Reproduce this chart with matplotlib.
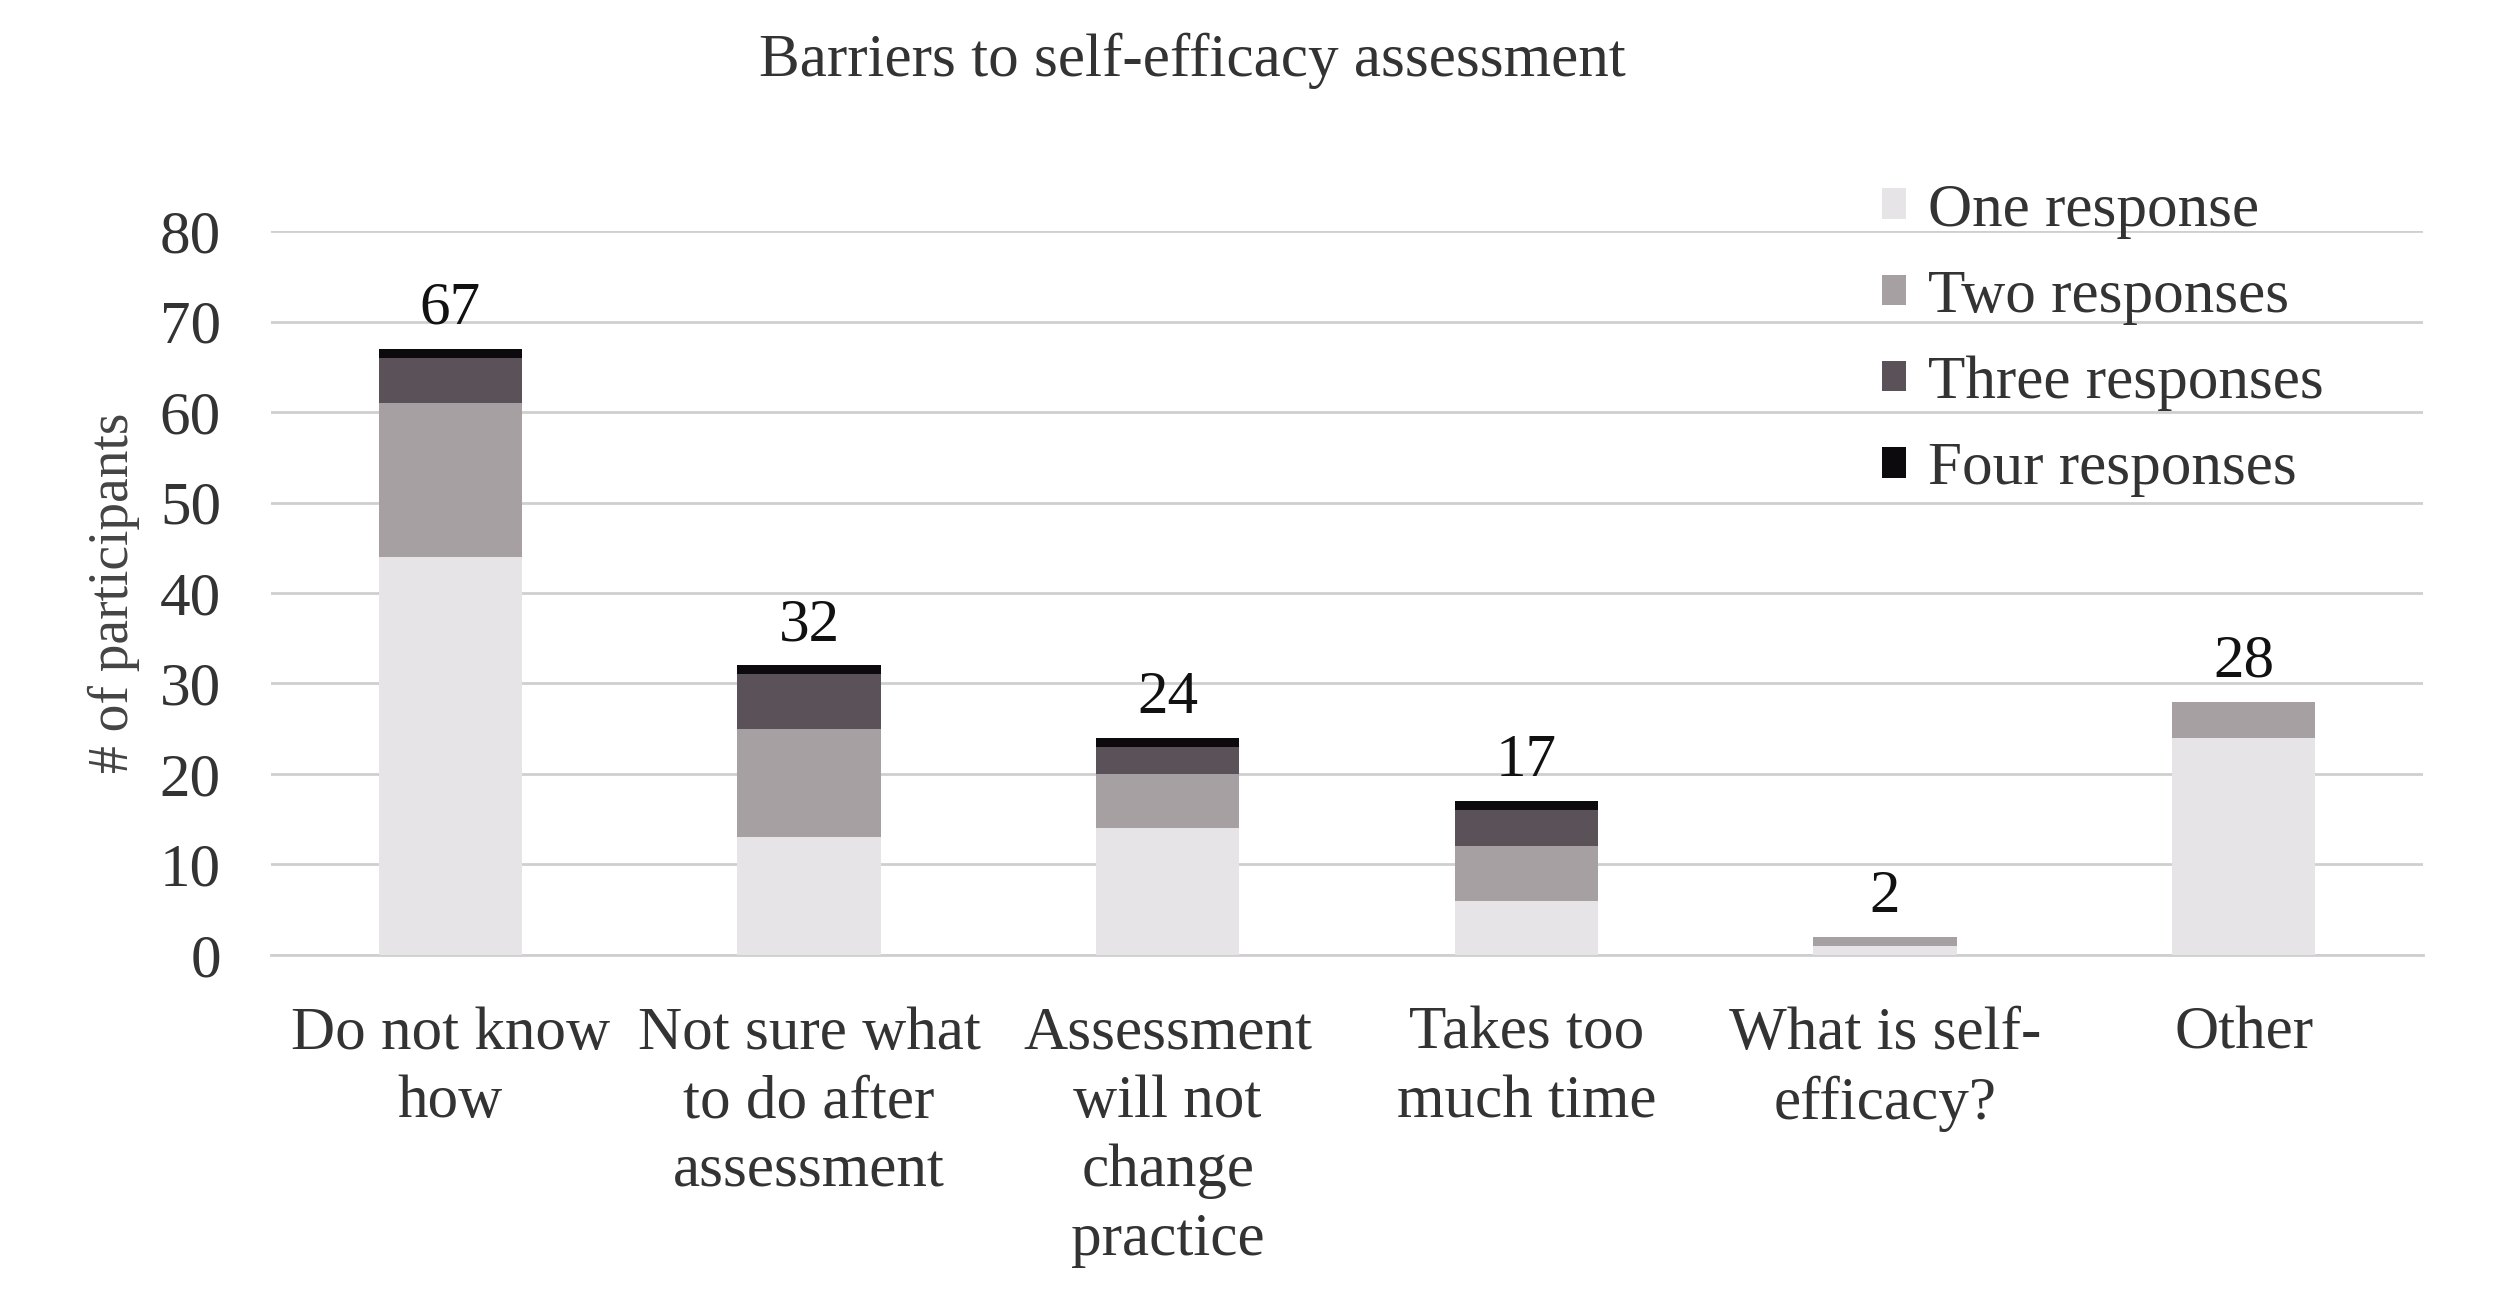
import matplotlib.pyplot as plt
import numpy as np

plt.rcParams['font.family'] = ['Liberation Serif', 'DejaVu Serif']

categories = ["Do not know\nhow", "Not sure what\nto do after\nassessment",
              "Assessment\nwill not\nchange\npractice", "Takes too\nmuch time",
              "What is self-\nefficacy?", "Other"]
one_resp = [44, 13, 14, 6, 1, 24]
two_resp = [17, 12, 6, 6, 1, 4]
three_resp = [5, 6, 3, 4, 0, 0]
four_resp = [1, 1, 1, 1, 0, 0]
totals = [67, 32, 24, 17, 2, 28]

series = [("One response", one_resp, '#e6e4e6'),
          ("Two responses", two_resp, '#a7a0a2'),
          ("Three responses", three_resp, '#5a5159'),
          ("Four responses", four_resp, '#0c0a0c')]

fig = plt.figure(figsize=(25, 13.01), dpi=100)
ax = fig.add_axes([0.1084, 0.266, 0.8608, 0.5564])

x = np.arange(len(categories))
bottom = np.zeros(len(categories))
for name, vals, col in series:
    ax.bar(x, vals, 0.4, bottom=bottom, color=col, label=name, zorder=3)
    bottom += np.array(vals)

for xi, t in zip(x, totals):
    ax.text(xi, t + 1.3, str(t), ha='center', va='bottom', fontsize=44, color='#111111')

ax.set_xlim(-0.5, 5.5)
ax.set_ylim(0, 80)
ax.set_yticks(range(0, 81, 10))
ax.set_xticks(x)
ax.set_xticklabels(categories, fontsize=44, color='#333333', linespacing=1.31)
ax.tick_params(axis='y', length=0, pad=36, labelsize=44, labelcolor='#333333')
ax.tick_params(axis='x', length=0, pad=37)
ax.grid(axis='y', color='#cfcfcf', linewidth=2, zorder=0)
for s in ['top', 'right', 'left']:
    ax.spines[s].set_visible(False)
ax.spines['bottom'].set_color('#cfcfcf')
ax.spines['bottom'].set_linewidth(2)

ax.set_ylabel("# of participants", fontsize=40, color='#444444', labelpad=14)
fig.text(0.477, 0.953, "Barriers to self-efficacy assessment", ha='center', va='center',
         fontsize=44, color='#333333')

ax.legend(loc='upper left', bbox_to_anchor=(0.723, 1.142), frameon=False, fontsize=44,
          handlelength=0.4, handleheight=0.4, handletextpad=0.35, labelspacing=0.5,
          labelcolor='#333333')

fig.savefig('out.png')
